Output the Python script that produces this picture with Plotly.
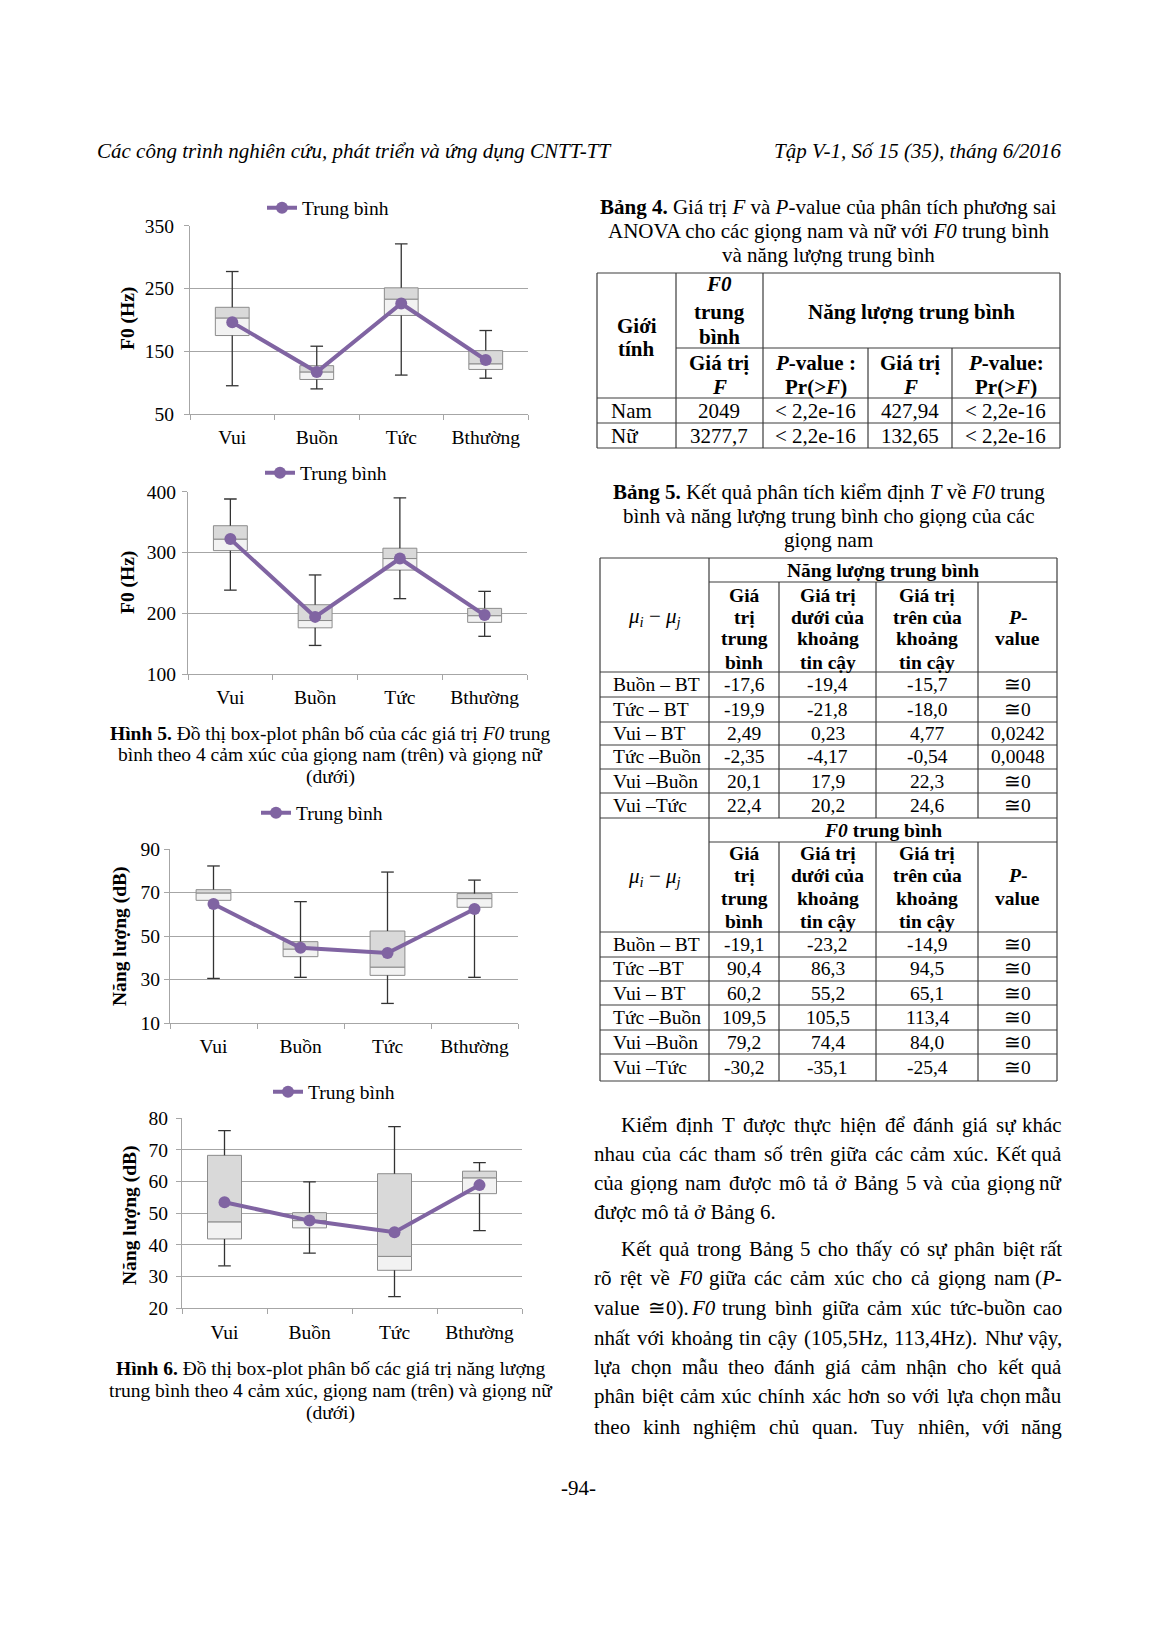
import re
import unicodedata
import numpy as np
import plotly.graph_objects as go

# ---------------- data ----------------
cats = ['Vui', 'Buồn', 'Tức', 'Bthường']

# Hình 5 (trên): F0 giọng nam
f0_nam_min = [95, 90, 112, 107]
f0_nam_q1 = [175, 105, 207, 121]
f0_nam_median = [203, 117, 233, 130]
f0_nam_q3 = [220, 127, 251, 151]
f0_nam_max = [277, 158, 321, 183]
f0_nam_mean = [196, 117, 226, 136]

# Hình 5 (dưới): F0 giọng nữ
f0_nu_min = [238, 147, 224, 162]
f0_nu_q1 = [303, 176, 271, 185]
f0_nu_median = [322, 188, 290, 196]
f0_nu_q3 = [344, 214, 307, 208]
f0_nu_max = [388, 263, 390, 236]
f0_nu_mean = [322, 194, 290, 197]

# Hình 6 (trên): năng lượng giọng nam
nl_nam_min = [30.5, 31, 19, 31]
nl_nam_q1 = [66.4, 40.5, 31.9, 63.2]
nl_nam_median = [69.8, 44, 35.7, 67.2]
nl_nam_q3 = [71.3, 47.4, 52.3, 69.5]
nl_nam_max = [82.2, 65.8, 79.4, 75.7]
nl_nam_mean = [64.7, 44.6, 42.2, 62.4]

# Hình 6 (dưới): năng lượng giọng nữ
nl_nu_min = [33.4, 37.4, 23.7, 44.5]
nl_nu_q1 = [41.9, 45.4, 32, 56.2]
nl_nu_median = [47.3, 47.7, 36.4, 61.2]
nl_nu_q3 = [68.3, 50.2, 62.5, 63.3]
nl_nu_max = [76.1, 59.9, 77.4, 66]
nl_nu_mean = [53.5, 47.7, 44, 58.9]

# Bảng 4
b4_rows = ['Nam', 'Nữ']
b4_f0_F = ['2049', '3277,7']
b4_f0_p = ['&lt; 2,2e-16', '&lt; 2,2e-16']
b4_nl_F = ['427,94', '132,65']
b4_nl_p = ['&lt; 2,2e-16', '&lt; 2,2e-16']

# Bảng 5
b5_nl_pairs = ['Buồn – BT', 'Tức – BT', 'Vui – BT', 'Tức –Buồn', 'Vui –Buồn', 'Vui –Tức']
b5_nl_mean = ['-17,6', '-19,9', '2,49', '-2,35', '20,1', '22,4']
b5_nl_lo = ['-19,4', '-21,8', '0,23', '-4,17', '17,9', '20,2']
b5_nl_hi = ['-15,7', '-18,0', '4,77', '-0,54', '22,3', '24,6']
b5_nl_p = ['≅0', '≅0', '0,0242', '0,0048', '≅0', '≅0']
b5_f0_pairs = ['Buồn – BT', 'Tức –BT', 'Vui – BT', 'Tức –Buồn', 'Vui –Buồn', 'Vui –Tức']
b5_f0_mean = ['-19,1', '90,4', '60,2', '109,5', '79,2', '-30,2']
b5_f0_lo = ['-23,2', '86,3', '55,2', '105,5', '74,4', '-35,1']
b5_f0_hi = ['-14,9', '94,5', '65,1', '113,4', '84,0', '-25,4']
b5_f0_p = ['≅0', '≅0', '≅0', '≅0', '≅0', '≅0']

# ---------------- helpers ----------------
W, H = 1157, 1637
FONT = 'Liberation Serif'
PURPLE = '#8064a2'
GRID = '#a6a6a6'
WHISK = '#333333'
TLINE = '#3c3c3c'


def X(x):
    return x / W


def Y(y):
    return 1 - y / H


ann = []
shp = []


def txt(x, y, s, size=21, anchor='center', angle=0):
    ann.append(dict(x=X(x), y=Y(y), xref='paper', yref='paper', text=s,
                    showarrow=False, xanchor=anchor, yanchor='middle',
                    textangle=angle, borderpad=0,
                    font=dict(family=FONT, size=size, color='#000000')))


def hl(x0, x1, y):
    shp.append(dict(type='line', xref='paper', yref='paper', x0=X(x0), x1=X(x1),
                    y0=Y(y), y1=Y(y), line=dict(color=TLINE, width=1.2)))


def vl(x, y0, y1):
    shp.append(dict(type='line', xref='paper', yref='paper', x0=X(x), x1=X(x),
                    y0=Y(y0), y1=Y(y1), line=dict(color=TLINE, width=1.2)))


TW = {' ': 250, '!': 333, '(': 333, ')': 333, ',': 250, '-': 333, '.': 250, '/': 278,
      ':': 278, ';': 278, '<': 564, '>': 564, '=': 564, '?': 444, '–': 500, '≅': 549}
for d in '0123456789':
    TW[d] = 500
TW.update(dict(A=722, B=667, C=667, D=722, E=611, F=556, G=722, H=722, I=333, J=389,
               K=722, L=611, M=889, N=722, O=722, P=556, Q=722, R=667, S=556, T=611,
               U=722, V=722, W=944, X=722, Y=722, Z=611))
TW.update(dict(a=444, b=500, c=444, d=500, e=444, f=333, g=500, h=500, i=278, j=278,
               k=500, l=278, m=778, n=500, o=500, p=500, q=500, r=333, s=389, t=278,
               u=500, v=500, w=722, x=500, y=500, z=444))


def cw(ch):
    if ch == 'đ':
        return 500
    if ch == 'Đ':
        return 722
    dec = unicodedata.normalize('NFD', ch)
    extra = 50 if '\u031b' in dec else 0
    return TW.get(dec[0], 500) + extra


def wem(s):
    s = re.sub(r'<[^>]+>', '', s)
    return sum(cw(c) for c in s) / 1000.0


def just_line(x0, x1, y, line, size):
    words = line.split(' ')
    ws = [wem(w) * size for w in words]
    gap = (x1 - x0 - sum(ws)) / (len(words) - 1)
    x = x0
    for i, (w, wd) in enumerate(zip(words, ws)):
        if i == len(words) - 1:
            txt(x1, y, w, size, 'right')
        else:
            txt(x, y, w, size, 'left')
        x += wd + gap


# ---------------- charts ----------------
charts = [
    dict(mn=f0_nam_min, q1=f0_nam_q1, md=f0_nam_median, q3=f0_nam_q3, mx=f0_nam_max, mean=f0_nam_mean,
         x0=190, x1=528, yt=225.7, yb=414, rng=[50, 350], dt=100, so=6, title='<b>F0 (Hz)</b>',
         tx=128, ty=319, lx=328, ly=208),
    dict(mn=f0_nu_min, q1=f0_nu_q1, md=f0_nu_median, q3=f0_nu_q3, mx=f0_nu_max, mean=f0_nu_mean,
         x0=188, x1=527, yt=491.7, yb=674, rng=[100, 400], dt=100, so=2, title='<b>F0 (Hz)</b>',
         tx=128, ty=583, lx=326, ly=473),
    dict(mn=nl_nam_min, q1=nl_nam_q1, md=nl_nam_median, q3=nl_nam_q3, mx=nl_nam_max, mean=nl_nam_mean,
         x0=170, x1=518, yt=849, yb=1023, rng=[10, 90], dt=20, so=0, title='<b>Năng lượng (dB)</b>',
         tx=120, ty=936, lx=322, ly=813),
    dict(mn=nl_nu_min, q1=nl_nu_q1, md=nl_nu_median, q3=nl_nu_q3, mx=nl_nu_max, mean=nl_nu_mean,
         x0=182, x1=522, yt=1118.3, yb=1308.3, rng=[20, 80], dt=10, so=4, title='<b>Năng lượng (dB)</b>',
         tx=130, ty=1215, lx=334, ly=1092),
]

fig = go.Figure()
layout = dict(width=W, height=H, autosize=False,
              margin=dict(l=0, r=0, t=0, b=0, pad=0, autoexpand=False),
              paper_bgcolor='white', plot_bgcolor='white', barmode='overlay',
              showlegend=True)
tickfont = dict(family=FONT, size=19.5, color='#000000')

for i, c in enumerate(charts):
    sfx = '' if i == 0 else str(i + 1)
    xa, ya = 'x' + sfx, 'y' + sfx
    leg = 'legend' + sfx
    mn, q1, md, q3, mx = (np.array(c[k], dtype=float) for k in ('mn', 'q1', 'md', 'q3', 'mx'))

    fig.add_trace(go.Bar(x=cats, y=md - q1, base=q1, width=0.4, xaxis=xa, yaxis=ya,
                         marker=dict(color='#f2f2f2', line=dict(color='#8c8c8c', width=1)),
                         showlegend=False, hoverinfo='skip'))
    fig.add_trace(go.Bar(x=cats, y=q3 - md, base=md, width=0.4, xaxis=xa, yaxis=ya,
                         marker=dict(color='#d9d9d9', line=dict(color='#8c8c8c', width=1)),
                         showlegend=False, hoverinfo='skip'))
    wx, wy = [], []
    for cat, a, b in zip(cats, q3, mx):
        wx += [cat, cat, None]
        wy += [a, b, None]
    for cat, a, b in zip(cats, q1, mn):
        wx += [cat, cat, None]
        wy += [a, b, None]
    fig.add_trace(go.Scatter(x=wx, y=wy, mode='lines', xaxis=xa, yaxis=ya,
                             line=dict(color=WHISK, width=1.3), showlegend=False, hoverinfo='skip'))
    fig.add_trace(go.Scatter(x=cats + cats, y=list(mx) + list(mn), mode='markers', xaxis=xa, yaxis=ya,
                             marker=dict(symbol='line-ew', size=9, color=WHISK,
                                         line=dict(color=WHISK, width=1.3)),
                             showlegend=False, hoverinfo='skip'))
    fig.add_trace(go.Scatter(x=cats, y=c['mean'], mode='lines+markers', name='Trung bình',
                             xaxis=xa, yaxis=ya, legend=leg,
                             line=dict(color=PURPLE, width=4),
                             marker=dict(size=12, color=PURPLE)))

    layout['xaxis' + sfx] = dict(domain=[X(c['x0']), X(c['x1'])], anchor=ya, type='category',
                                 categoryorder='array', categoryarray=cats, range=[-0.5, 3.5],
                                 showgrid=False, showline=True, linecolor=GRID, linewidth=1,
                                 ticks='outside', tickson='boundaries', ticklen=5, tickcolor=GRID,
                                 tickfont=tickfont, ticklabelstandoff=6, zeroline=False,
                                 fixedrange=True, automargin=False)
    layout['yaxis' + sfx] = dict(domain=[Y(c['yb']), Y(c['yt'])], anchor=xa, range=c['rng'],
                                 tick0=c['rng'][0], dtick=c['dt'], showgrid=True, gridcolor=GRID,
                                 gridwidth=1, showline=True, linecolor=GRID, linewidth=1,
                                 ticks='outside', ticklen=5, tickcolor=GRID, tickfont=tickfont,
                                 ticklabelstandoff=c['so'], zeroline=False, fixedrange=True,
                                 automargin=False)
    layout[leg] = dict(x=X(c['lx']), y=Y(c['ly']), xanchor='center', yanchor='middle',
                       orientation='h', bgcolor='rgba(0,0,0,0)', borderwidth=0,
                       font=dict(family=FONT, size=19.5, color='#000000'))
    txt(c['tx'], c['ty'], c['title'], 19.5, 'center', -90)

# ---------------- page header / footer ----------------
txt(96, 151, '<i>Các công trình nghiên cứu, phát triển và ứng dụng CNTT-TT</i>', 21, 'left')
txt(1062, 151, '<i>Tập V-1, Số 15 (35), tháng 6/2016</i>', 21, 'right')
txt(578, 1488, '-94-', 21)

# ---------------- figure captions ----------------
txt(331, 733, '<b>Hình 5.</b> Đồ thị box-plot phân bố của các giá trị <i>F0</i> trung', 19.5)
txt(331, 755, 'bình theo 4 cảm xúc của giọng nam (trên) và giọng nữ', 19.5)
txt(331, 777, '(dưới)', 19.5)
txt(331, 1368, '<b>Hình 6.</b> Đồ thị box-plot phân bố các giá trị năng lượng', 19.5)
txt(331, 1391, 'trung bình theo 4 cảm xúc, giọng nam (trên) và giọng nữ', 19.5)
txt(331, 1413, '(dưới)', 19.5)

# ---------------- Bảng 4 ----------------
txt(828, 207, '<b>Bảng 4.</b> Giá trị <i>F</i> và <i>P</i>-value của phân tích phương sai', 21)
txt(828, 231, 'ANOVA cho các giọng nam và nữ với <i>F0</i> trung bình', 21)
txt(828, 255, 'và năng lượng trung bình', 21)

c4 = [597, 676, 763, 868, 952, 1060]
for y in (273, 398, 423, 448):
    hl(597, 1060, y)
hl(676, 1060, 348)
for x in (597, 676, 763, 1060):
    vl(x, 273, 448)
for x in (868, 952):
    vl(x, 348, 448)

m4 = [(c4[k] + c4[k + 1]) / 2 for k in range(5)]
txt(m4[0], 326, '<b>Giới</b>')
txt(m4[0], 349, '<b>tính</b>')
txt(m4[1], 284, '<b><i>F0</i></b>')
txt(m4[1], 312, '<b>trung</b>')
txt(m4[1], 337, '<b>bình</b>')
txt(m4[1], 363, '<b>Giá trị</b>')
txt(m4[1], 387, '<b><i>F</i></b>')
txt((763 + 1060) / 2, 312, '<b>Năng lượng trung bình</b>')
txt(m4[2], 363, '<b><i>P</i>-value :</b>')
txt(m4[2], 387, '<b>Pr(&gt;<i>F</i>)</b>')
txt(m4[3], 363, '<b>Giá trị</b>')
txt(m4[3], 387, '<b><i>F</i></b>')
txt(m4[4], 363, '<b><i>P</i>-value:</b>')
txt(m4[4], 387, '<b>Pr(&gt;<i>F</i>)</b>')
for k, y in enumerate((411, 436)):
    txt(610, y, b4_rows[k], 21, 'left')
    txt(m4[1], y, b4_f0_F[k])
    txt(m4[2], y, b4_f0_p[k])
    txt(m4[3], y, b4_nl_F[k])
    txt(m4[4], y, b4_nl_p[k])

# ---------------- Bảng 5 ----------------
txt(829, 492, '<b>Bảng 5.</b> Kết quả phân tích kiểm định <i>T</i> về <i>F0</i> trung', 21)
txt(829, 516, 'bình và năng lượng trung bình cho giọng của các', 21)
txt(829, 540, 'giọng nam', 21)

c5 = [600, 709, 779, 876, 978, 1057]
for y in (558, 672, 697, 722, 745, 769, 793, 818, 932, 957, 981, 1005, 1030, 1054, 1081):
    hl(600, 1057, y)
for y in (582, 842):
    hl(709, 1057, y)
for x in (600, 709, 1057):
    vl(x, 558, 1081)
for x in (779, 876, 978):
    vl(x, 582, 818)
    vl(x, 842, 1081)
m5 = [(c5[k] + c5[k + 1]) / 2 for k in range(5)]
S5 = 19.5


def b5_block(top_title, ty, hys, mu_y, pairs, cols, rows_y):
    txt((709 + 1057) / 2, ty, top_title, S5)
    txt(m5[0], mu_y, '<i>μ<sub>i</sub></i> − <i>μ<sub>j</sub></i>', 21)
    for s, y in zip(['<b>Giá</b>', '<b>trị</b>', '<b>trung</b>', '<b>bình</b>'], hys):
        txt(m5[1], y, s, S5)
    for s, y in zip(['<b>Giá trị</b>', '<b>dưới của</b>', '<b>khoảng</b>', '<b>tin cậy</b>'], hys):
        txt(m5[2], y, s, S5)
    for s, y in zip(['<b>Giá trị</b>', '<b>trên của</b>', '<b>khoảng</b>', '<b>tin cậy</b>'], hys):
        txt(m5[3], y, s, S5)
    txt(m5[4], hys[1], '<b><i>P</i>-</b>', S5)
    txt(m5[4], hys[2], '<b>value</b>', S5)
    for k, y in enumerate(rows_y):
        txt(612, y, pairs[k], S5, 'left')
        for j in range(4):
            txt(m5[j + 1], y, cols[j][k], S5)


b5_block('<b>Năng lượng trung bình</b>', 570, [595, 617, 639, 662], 617, b5_nl_pairs,
         [b5_nl_mean, b5_nl_lo, b5_nl_hi, b5_nl_p], [684.5, 709.5, 733.5, 757, 781, 805.5])
b5_block('<b><i>F0</i> trung bình</b>', 830, [853, 875, 898, 921], 877, b5_f0_pairs,
         [b5_f0_mean, b5_f0_lo, b5_f0_hi, b5_f0_p], [944.5, 969, 993, 1017.5, 1042, 1067.5])

# ---------------- body text ----------------
BODY = 21
body = [
    (620, 1125, 'Kiểm định T được thực hiện để đánh giá sự khác', True),
    (593, 1154, 'nhau của các tham số trên giữa các cảm xúc. Kết quả', True),
    (593, 1183, 'của giọng nam được mô tả ở Bảng 5 và của giọng nữ', True),
    (593, 1212, 'được mô tả ở Bảng 6.', False),
    (620, 1249, 'Kết quả trong Bảng 5 cho thấy có sự phân biệt rất', True),
    (593, 1278, 'rõ rệt về <i>F0</i> giữa các cảm xúc cho cả giọng nam (<i>P</i>-', True),
    (593, 1308, 'value ≅0). <i>F0</i> trung bình giữa cảm xúc tức-buồn cao', True),
    (593, 1338, 'nhất với khoảng tin cậy (105,5Hz, 113,4Hz). Như vậy,', True),
    (593, 1367, 'lựa chọn mẫu theo đánh giá cảm nhận cho kết quả', True),
    (593, 1396, 'phân biệt cảm xúc chính xác hơn so với lựa chọn mẫu', True),
    (593, 1427, 'theo kinh nghiệm chủ quan. Tuy nhiên, với năng', True),
]
for x0, y, line, justify in body:
    if justify:
        just_line(x0, 1063, y, line, BODY)
    else:
        txt(x0, y, line, BODY, 'left')

layout['annotations'] = ann
layout['shapes'] = shp
fig.update_layout(**layout)
fig.write_html('out.html', config={'displayModeBar': False})
